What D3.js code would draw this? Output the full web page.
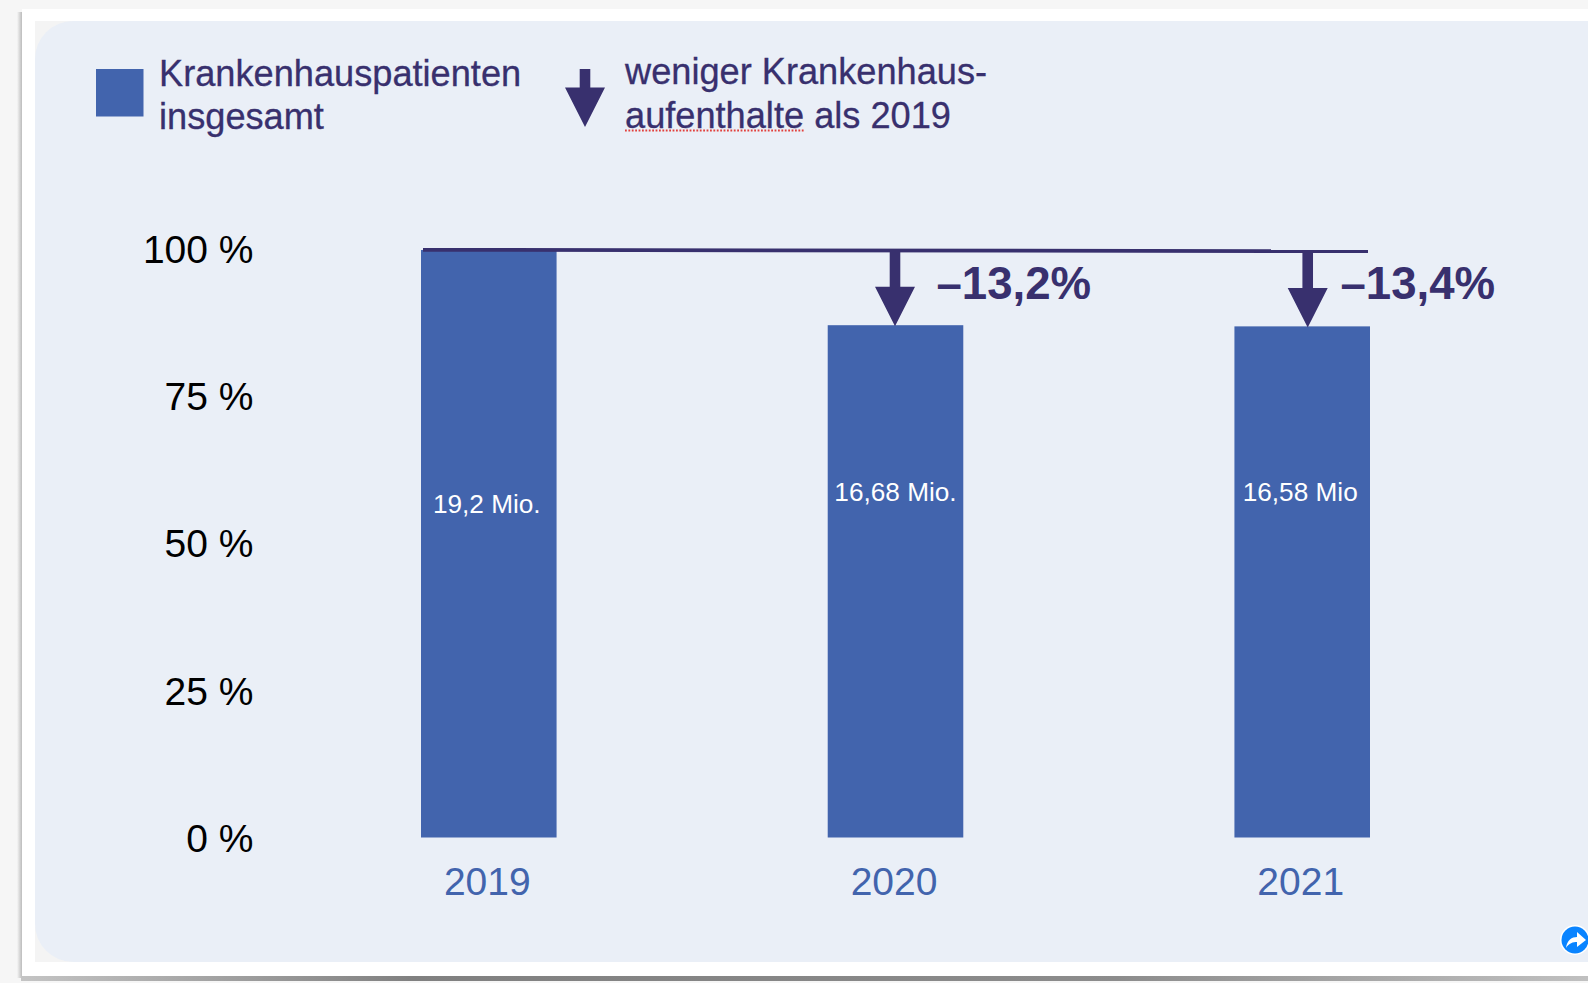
<!DOCTYPE html>
<html lang="de">
<head>
<meta charset="utf-8">
<title>Krankenhauspatienten</title>
<script src="https://cdn.jsdelivr.net/npm/d3@7"></script>
<style>
    html, body { margin: 0; padding: 0; background: #f6f6f6; overflow: hidden; }
    svg { display: block; font-family: "Liberation Sans", Arial, sans-serif; }
</style>
</head>
<body>
<div id="chart"></div>
<script>
// Values
const years = ["2019", "2020", "2021"];
const shares = [100, 87.2, 87.0];           // bar height in percent
const valueLabels = ["19,2 Mio.", "16,68 Mio.", "16,58 Mio"];
const changeLabels = ["", "–13,2%", "–13,4%"];
const yTicks = [0, 25, 50, 75, 100];
const legendBars = ["Krankenhauspatienten", "insgesamt"];
const legendArrow = ["weniger Krankenhaus-", "aufenthalte als 2019"];

const width = 1588, height = 983;
const blue = "#4264ad", purple = "#38306e", panelColor = "#eaeff7";

const svg = d3.select("#chart").append("svg")
    .attr("width", width)
    .attr("height", height);

// Shadow gradients around the card
const defs = svg.append("defs");
const bottomShadow = defs.append("linearGradient").attr("id", "bottomShadow");
[[0, "#c4c4c4"], [0.25, "#808080"], [0.7, "#8c8c8c"], [1, "#c0c0c0"]].forEach(s => {
    bottomShadow.append("stop").attr("offset", s[0]).attr("stop-color", s[1]);
});
const leftShadow = defs.append("linearGradient").attr("id", "leftShadow");
leftShadow.append("stop").attr("offset", 0).attr("stop-color", "#f6f6f6");
leftShadow.append("stop").attr("offset", 1).attr("stop-color", "#bcbcbc");

// Card and panel
svg.append("rect").attr("x", 17).attr("y", 12).attr("width", 5).attr("height", 966).attr("fill", "url(#leftShadow)");
svg.append("rect").attr("x", 21).attr("y", 976).attr("width", 1567).attr("height", 5).attr("fill", "url(#bottomShadow)");
svg.append("rect").attr("x", 22).attr("y", 9).attr("width", 1566).attr("height", 967).attr("fill", "#fff");
svg.append("rect").attr("x", 35).attr("y", 21).attr("width", 1553).attr("height", 941).attr("fill", "#f4f4f4");
svg.append("rect").attr("x", 35).attr("y", 21).attr("width", 1590).attr("height", 941).attr("rx", 38).attr("fill", panelColor);

// Scales
const x = d3.scaleBand().domain(years).range([421, 1370]).paddingInner(2 / 3).paddingOuter(0);
const y = d3.scaleLinear().domain([0, 100]).range([837.5, 250]);

// Axes
const yAxis = svg.append("g")
    .attr("transform", "translate(253.5,0)")
    .call(d3.axisLeft(y).tickValues(yTicks).tickSize(0).tickPadding(0).tickFormat(d => d + " %"));
yAxis.select(".domain").remove();
yAxis.selectAll("text")
    .attr("y", d => -d * 0.02)   // labels sit a bit tighter than the bars in the original
    .attr("dy", "0.36em")
    .style("font-family", "inherit")
    .style("font-size", "39px")
    .style("fill", "#000");

const xAxis = svg.append("g")
    .attr("transform", "translate(-1.5,837.5)")
    .call(d3.axisBottom(x).tickSize(0).tickPadding(0));
xAxis.select(".domain").remove();
xAxis.selectAll("text")
    .attr("y", 57.5)
    .attr("dy", 0)
    .style("font-family", "inherit")
    .style("font-size", "39px")
    .style("fill", blue);

// Bars
svg.append("g").selectAll("rect")
    .data(years)
    .enter().append("rect")
    .attr("x", d => x(d))
    .attr("y", (d, i) => y(shares[i]))
    .attr("width", x.bandwidth())
    .attr("height", (d, i) => y(0) - y(shares[i]))
    .attr("fill", blue);

// Labels inside the bars
const labelBaselines = [513, 501, 501];
svg.append("g").selectAll("text")
    .data(valueLabels)
    .enter().append("text")
    .attr("x", (d, i) => x(years[i]) + x.bandwidth() / 2 - (i === 0 ? 2 : i === 2 ? 2 : 0))
    .attr("y", (d, i) => labelBaselines[i])
    .attr("text-anchor", "middle")
    .attr("font-size", 26.2)
    .attr("fill", "#fff")
    .text(d => d);

// Down arrow, used for the chart and for the legend
function drawArrow(cx, top, tip) {
    const p = d3.path();
    p.moveTo(cx - 5.3, top);
    p.lineTo(cx + 5.3, top);
    p.lineTo(cx + 5.3, tip - 39.5);
    p.lineTo(cx + 20, tip - 39.5);
    p.lineTo(cx, tip);
    p.lineTo(cx - 20, tip - 39.5);
    p.lineTo(cx - 5.3, tip - 39.5);
    p.closePath();
    svg.append("path").attr("d", p.toString()).attr("fill", purple);
}

// Reference line at 100 %, slightly tilted in the original
svg.append("path")
    .attr("d", `M423,${y(100) - 0.2}L1368,${y(100) + 1.2}`)
    .attr("stroke", purple)
    .attr("stroke-width", 3.8)
    .attr("fill", "none");

const arrowNudge = [0, -0.5, 5.5];
years.forEach((year, i) => {
    if (i === 0) return;
    const cx = x(year) + x.bandwidth() / 2 + arrowNudge[i];
    drawArrow(cx, y(100), y(shares[i]) + 1);
    svg.append("text")
        .attr("x", i === 1 ? 936.5 : 1340.5)
        .attr("y", 299)
        .attr("font-size", 45.6)
        .attr("font-weight", "bold")
        .attr("fill", purple)
        .text(changeLabels[i]);
});

// Legend
svg.append("rect").attr("x", 96).attr("y", 69).attr("width", 47.5).attr("height", 47.5).attr("fill", blue);
legendBars.forEach((line, i) => {
    svg.append("text").attr("x", 159).attr("y", 86 + i * 43)
        .attr("font-size", 36.2).attr("fill", purple)
        .attr("stroke", purple).attr("stroke-width", 0.3).text(line);
});
drawArrow(585, 69, 127);
legendArrow.forEach((line, i) => {
    svg.append("text").attr("x", 625).attr("y", 84 + i * 44)
        .attr("font-size", 36.2).attr("fill", purple)
        .attr("stroke", purple).attr("stroke-width", 0.3).text(line);
});
// Spell check underline from the screenshot
svg.append("line")
    .attr("x1", 625).attr("x2", 805).attr("y1", 130.5).attr("y2", 130.5)
    .attr("stroke", "#e2403c")
    .attr("stroke-width", 1.8)
    .attr("stroke-dasharray", "1.8 1.6");

// Share button in the corner
const share = svg.append("g").attr("transform", "translate(1575,940)");
share.append("circle").attr("r", 15).attr("fill", "#fff");
share.append("circle").attr("r", 13.5).attr("fill", "#0a84ff");
share.append("path")
    .attr("d", "M-9,8C-8,0 -3,-3 2,-3L2,-8L11,0L2,7L2,2C-2,2 -6,3 -9,8Z")
    .attr("fill", "#fff");
</script>
</body>
</html>
